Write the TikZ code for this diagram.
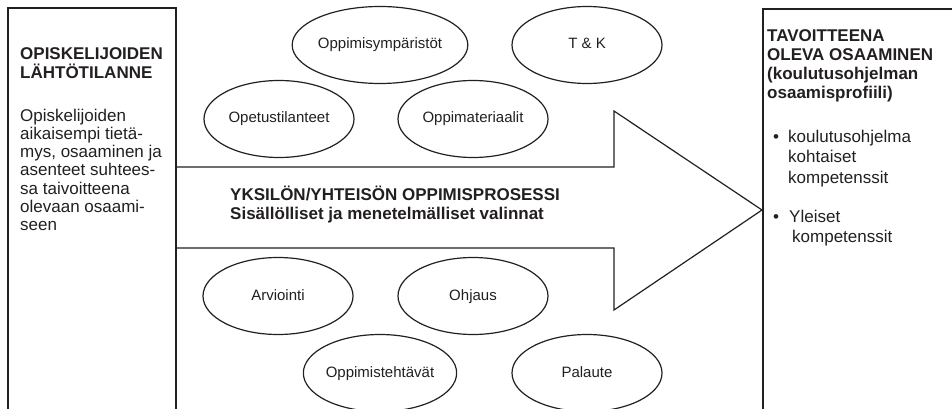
\documentclass[tikz,border=0pt]{standalone}
\usepackage{fontspec}
\setmainfont{Liberation Sans}
\usetikzlibrary{shapes.geometric}
\definecolor{ink}{HTML}{231F20}
\begin{document}
\begin{tikzpicture}[x=1pt,y=-1pt,
  line/.style={draw=ink,line width=1.2pt},
  % fixed text height/depth keeps every oval label on the same baseline
  oval/.style={ellipse,draw=ink,line width=1.2pt,minimum width=150pt,
    minimum height=77pt,inner sep=0pt,text=ink,text height=11pt,text depth=3pt,
    font=\fontsize{15}{18}\selectfont},
  % multi-line texts are placed by the baseline of their last line
  txt/.style={inner sep=0pt,anchor=base west,align=left,text=ink},
  head/.style={txt,font=\fontsize{17}{18.5}\selectfont\bfseries},
  body/.style={txt,font=\fontsize{17}{18.3}\selectfont},
  list/.style={txt,font=\fontsize{17}{20.5}\selectfont}]
\useasboundingbox (0,0) rectangle (952,409);

% starting-point column
\draw[line] (8,411) -- (8,8) -- (176,8) -- (176,411);
\node[head] (ltitle) at (20,78.5) {OPISKELIJOIDEN\\LÄHTÖTILANNE};
\node[body] (lbody) at (20,230.8) {Opiskelijoiden\\aikaisempi tietä-\\mys, osaaminen ja\\asenteet suhtees-\\sa taivoitteena\\olevaan osaami-\\seen};

% target column
\draw[line] (953,9) -- (763,9) -- (763,411);
\node[head,font=\fontsize{17}{19}\selectfont\bfseries] (rtitle) at (767,99) {TAVOITTEENA\\OLEVA OSAAMINEN\\(koulutusohjelman\\osaamisprofiili)};
\node[list] (rbul1) at (773,142) {•};
\node[list] (rtxt1) at (788,183) {koulutusohjelma\\kohtaiset\\kompetenssit};
\node[list] (rbul2) at (773,222) {•};
\node[list] (rtxt2) at (789,242.5) {Yleiset\\\hspace*{3pt}kompetenssit};

% process arrow
\coordinate (a1) at (176,167);
\coordinate (a2) at (614,167);
\coordinate (a3) at (614,111);
\coordinate (tip) at (762,210);
\coordinate (a4) at (614,310);
\coordinate (a5) at (614,248);
\coordinate (a6) at (176,248);
\draw[line] (a1) -- (a2) -- (a3) -- (tip) -- (a4) -- (a5) -- (a6);
\node[head,font=\fontsize{17}{19}\selectfont\bfseries] (ptitle) at (230,219) {YKSILÖN/YHTEISÖN OPPIMISPROSESSI\\Sisällölliset ja menetelmälliset valinnat};

% content ovals above the arrow
\node[oval] (ympar) at (380,45) {Oppimisympäristöt};
\node[oval] (tk) at (587,45) {T \& K};
\node[oval] (opetus) at (279,119) {Opetustilanteet};
\node[oval] (materia) at (473,119) {Oppimateriaalit};

% method ovals below the arrow
\node[oval] (arvio) at (278,296) {Arviointi};
\node[oval] (ohjaus) at (473,296) {Ohjaus};
\node[oval] (tehtavat) at (380,373) {Oppimistehtävät};
\node[oval] (palaute) at (587,373) {Palaute};
\end{tikzpicture}
\end{document}
